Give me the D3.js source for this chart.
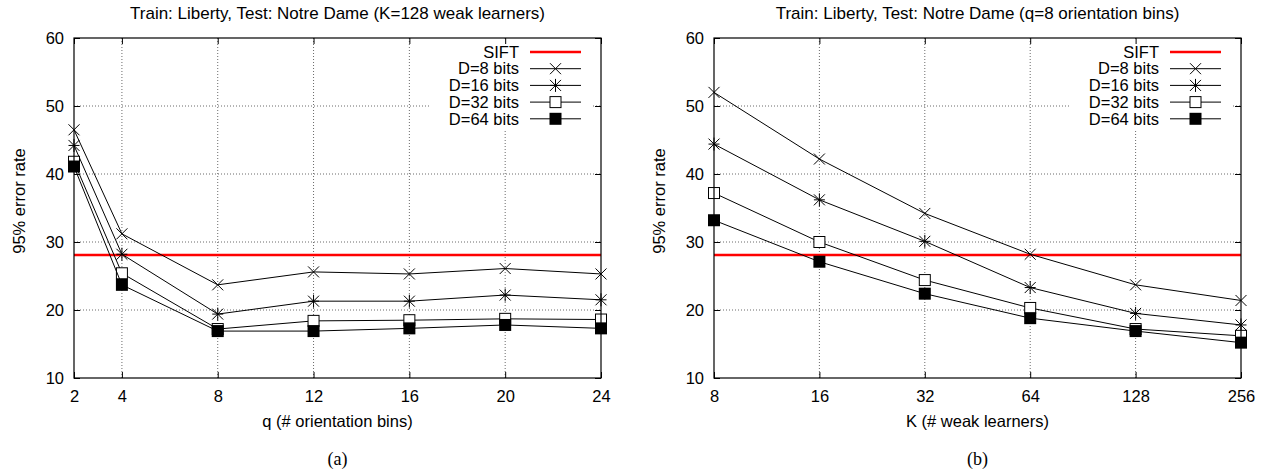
<!DOCTYPE html>
<html>
<head>
<meta charset="utf-8">
<script src="https://cdn.jsdelivr.net/npm/d3@7"></script>
<style>
  body { margin: 0; background: #fff; }
  svg text { font-family: "Liberation Sans", Arial, Helvetica, sans-serif; font-size: 16.5px; fill: #000; }
  .grid line { stroke: #444; stroke-width: 0.8; stroke-dasharray: 1,2; }
  .axis line { stroke: #000; stroke-width: 1; }
  .axis path { display: none; }
  svg text.title { font-size: 17px; }
  svg text.caption { font-family: "Liberation Serif", "Times New Roman", serif; font-size: 18px; }
</style>
</head>
<body>
<script>
// values
var qBins = [2, 4, 8, 12, 16, 20, 24];
var qD8  = [46.5, 31.2, 23.7, 25.6, 25.3, 26.1, 25.3];
var qD16 = [44.2, 28.2, 19.4, 21.3, 21.3, 22.2, 21.5];
var qD32 = [41.8, 25.4, 17.2, 18.4, 18.5, 18.7, 18.6];
var qD64 = [41.1, 23.7, 16.9, 16.9, 17.3, 17.8, 17.3];

var kLearners = [8, 16, 32, 64, 128, 256];
var kD8  = [52.0, 42.2, 34.2, 28.2, 23.7, 21.4];
var kD16 = [44.4, 36.2, 30.1, 23.3, 19.5, 17.8];
var kD32 = [37.2, 30.0, 24.4, 20.3, 17.2, 16.2];
var kD64 = [33.2, 27.1, 22.4, 18.8, 16.9, 15.2];

var siftRate = 28.1;
var yTicks = [10, 20, 30, 40, 50, 60];
var seriesNames = ['D=8 bits', 'D=16 bits', 'D=32 bits', 'D=64 bits'];
var markerTypes = ['cross', 'star', 'box', 'fbox'];

var W = 1266, H = 469;
var top_ = 38, bottom_ = 378;

var svg = d3.select('body').append('svg').attr('width', W).attr('height', H);

function drawMarker(g, type, x, y) {
  var s = 5.5;
  if (type == 'cross' || type == 'star') {
    var d = 'M' + (x - s) + ',' + (y - s) + 'L' + (x + s) + ',' + (y + s) +
            'M' + (x - s) + ',' + (y + s) + 'L' + (x + s) + ',' + (y - s);
    if (type == 'star') {
      d += 'M' + (x - s) + ',' + y + 'L' + (x + s) + ',' + y +
           'M' + x + ',' + (y - s - 1) + 'L' + x + ',' + (y + s + 1);
    }
    g.append('path').attr('d', d).attr('stroke', '#000').attr('stroke-width', 1).attr('fill', 'none');
  } else if (type == 'box') {
    g.append('rect').attr('x', x - s).attr('y', y - s).attr('width', 2 * s).attr('height', 2 * s)
      .attr('fill', '#fff').attr('stroke', '#000').attr('stroke-width', 1);
  } else {
    g.append('rect').attr('x', x - 6).attr('y', y - 6).attr('width', 12).attr('height', 12)
      .attr('fill', '#000');
  }
}

function panel(opt) {
  var g = svg.append('g');
  var x = opt.x, y = d3.scaleLinear().domain([10, 60]).range([bottom_, top_]);
  var x0 = x.range()[0], x1 = x.range()[1];

  // dotted grid
  var grid = g.append('g').attr('class', 'grid');
  grid.selectAll('.gx').data(opt.xs.slice(1, -1)).enter().append('line')
    .attr('x1', function(d) { return x(d); }).attr('x2', function(d) { return x(d); })
    .attr('y1', top_).attr('y2', bottom_);
  grid.selectAll('.gy').data(yTicks.slice(1, -1)).enter().append('line')
    .attr('x1', x0).attr('x2', x1)
    .attr('y1', function(d) { return y(d); }).attr('y2', function(d) { return y(d); });

  // opaque key background
  g.append('rect').attr('x', x1 - 171).attr('y', top_ + 1).attr('width', 162).attr('height', 90)
    .attr('fill', '#fff');

  // axes, ticks point inward on all four sides
  g.append('g').attr('class', 'axis').attr('transform', 'translate(0,' + bottom_ + ')')
    .call(d3.axisBottom(x).tickValues(opt.xs).tickFormat(d3.format('d')).tickSize(-6).tickPadding(12));
  g.append('g').attr('class', 'axis').attr('transform', 'translate(0,' + top_ + ')')
    .call(d3.axisTop(x).tickValues(opt.xs).tickFormat('').tickSize(-6));
  g.append('g').attr('class', 'axis').attr('transform', 'translate(' + x0 + ',0)')
    .call(d3.axisLeft(y).tickValues(yTicks).tickSize(-6).tickPadding(10));
  g.append('g').attr('class', 'axis').attr('transform', 'translate(' + x1 + ',0)')
    .call(d3.axisRight(y).tickValues(yTicks).tickFormat('').tickSize(-6));
  g.selectAll('.axis text').attr('font-size', null).attr('font-family', null);

  // SIFT baseline
  g.append('line').attr('x1', x0).attr('x2', x1).attr('y1', y(siftRate)).attr('y2', y(siftRate))
    .attr('stroke', '#f00').attr('stroke-width', 2.5);

  var line = d3.line().x(function(d) { return x(d[0]); }).y(function(d) { return y(d[1]); });
  opt.series.forEach(function(vals, i) {
    var pts = opt.xs.map(function(v, j) { return [v, vals[j]]; });
    g.append('path').attr('d', line(pts)).attr('fill', 'none').attr('stroke', '#000').attr('stroke-width', 1);
    pts.forEach(function(p) { drawMarker(g, markerTypes[i], x(p[0]), y(p[1])); });
  });

  // frame
  g.append('rect').attr('x', x0).attr('y', top_).attr('width', x1 - x0).attr('height', bottom_ - top_)
    .attr('fill', 'none').attr('stroke', '#000').attr('stroke-width', 1.2);

  // key
  var keyNames = ['SIFT'].concat(seriesNames);
  keyNames.forEach(function(name, i) {
    var ky = 52 + i * 16.7;
    g.append('text').attr('x', x1 - 82).attr('y', ky).attr('dy', '0.35em')
      .attr('text-anchor', 'end').text(name);
    if (i == 0) {
      g.append('line').attr('x1', x1 - 71).attr('x2', x1 - 20).attr('y1', ky).attr('y2', ky)
        .attr('stroke', '#f00').attr('stroke-width', 2.5);
    } else {
      g.append('line').attr('x1', x1 - 71).attr('x2', x1 - 20).attr('y1', ky).attr('y2', ky)
        .attr('stroke', '#000').attr('stroke-width', 1);
      drawMarker(g, markerTypes[i - 1], x1 - 45.5, ky);
    }
  });

  var cx = (x0 + x1) / 2;
  g.append('text').attr('class', 'title').attr('x', cx).attr('y', 19).attr('text-anchor', 'middle').text(opt.title);
  g.append('text').attr('x', cx).attr('y', 427).attr('text-anchor', 'middle').text(opt.xlabel);
  g.append('text').attr('transform', 'translate(' + (x0 - 55) + ',201) rotate(-90)')
    .attr('dy', '0.35em').attr('text-anchor', 'middle').text('95% error rate');
  g.append('text').attr('class', 'caption').attr('x', cx).attr('y', 465)
    .attr('text-anchor', 'middle').text(opt.caption);
}

panel({
  x: d3.scaleLinear().domain([2, 24]).range([74, 601]),
  xs: qBins,
  series: [qD8, qD16, qD32, qD64],
  title: 'Train: Liberty, Test: Notre Dame (K=128 weak learners)',
  xlabel: 'q (# orientation bins)',
  caption: '(a)'
});

panel({
  x: d3.scaleLog().base(2).domain([8, 256]).range([714, 1241]),
  xs: kLearners,
  series: [kD8, kD16, kD32, kD64],
  title: 'Train: Liberty, Test: Notre Dame (q=8 orientation bins)',
  xlabel: 'K (# weak learners)',
  caption: '(b)'
});
</script>
</body>
</html>
